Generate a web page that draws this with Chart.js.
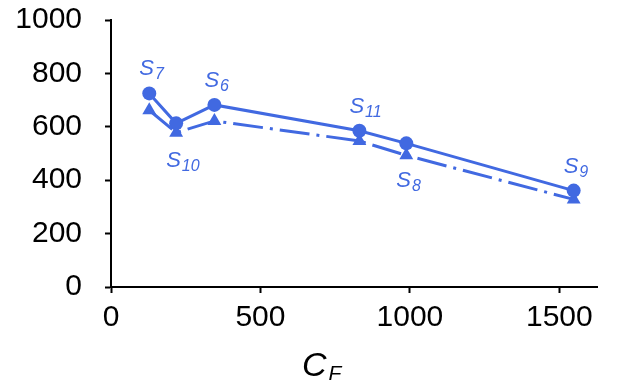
<!DOCTYPE html>
<html>
<head>
<meta charset="utf-8">
<script src="https://cdn.jsdelivr.net/npm/chart.js@4"></script>
<style>
  body { margin: 0; background: #fff; }
  #wrap { width: 627px; height: 389px; }
</style>
</head>
<body>
<div id="wrap"><canvas id="chart" width="627" height="389"></canvas></div>
<script>
// sample subscripts, C_F positions and the two measured series
const sampleNames = ['7', '10', '6', '11', '8', '9'];
const cfValues = [128, 218, 346, 831, 988, 1548];
const circleValues = [725, 613, 682, 585, 538, 361];
const triangleValues = [662, 578, 622, 547, 493, 328];
const labelSide = ['above', 'below', 'above', 'above', 'below', 'above'];
const xTicks = [0, 500, 1000, 1500];
const yTicks = [0, 200, 400, 600, 800, 1000];

const BLUE = '#4169E1';
const FONT = "'Liberation Sans', Arial, sans-serif";

const toPoints = (ys) => cfValues.map((x, i) => ({ x: x, y: ys[i] }));

// draws the S_n labels next to the circle points and the C_F axis title
const textPlugin = {
    id: 'textPlugin',
    afterDatasetsDraw(chart) {
        const ctx = chart.ctx;
        const pts = chart.getDatasetMeta(0).data;
        ctx.save();
        ctx.fillStyle = BLUE;
        ctx.textBaseline = 'alphabetic';
        ctx.textAlign = 'left';
        pts.forEach((p, i) => {
            const baseY = labelSide[i] === 'above' ? p.y - 18 : p.y + 44;
            const startX = p.x - 10;
            ctx.font = 'italic 22px ' + FONT;
            ctx.fillText('S', startX, baseY);
            const w = ctx.measureText('S').width;
            ctx.font = 'italic 16px ' + FONT;
            ctx.fillText(sampleNames[i], startX + w + 1, baseY + 4);
        });

        // x axis title
        ctx.fillStyle = '#000';
        ctx.font = 'italic 34px ' + FONT;
        ctx.fillText('C', 302, 376);
        const cw = ctx.measureText('C').width;
        ctx.font = 'italic 21px ' + FONT;
        ctx.fillText('F', 302 + cw + 2, 380);
        ctx.restore();
    }
};

const ctx = document.getElementById('chart').getContext('2d');
new Chart(ctx, {
    type: 'line',
    data: {
        datasets: [{
            label: 'circle',
            data: toPoints(circleValues),
            borderColor: BLUE,
            backgroundColor: BLUE,
            borderWidth: 3,
            pointStyle: 'circle',
            pointRadius: 7,
            pointBackgroundColor: BLUE,
            pointBorderWidth: 0,
            tension: 0,
            order: 1
        }, {
            label: 'triangle',
            data: toPoints(triangleValues),
            borderColor: BLUE,
            backgroundColor: BLUE,
            borderWidth: 3,
            borderDash: [30, 7, 3, 7],
            pointStyle: 'triangle',
            pointRadius: 8,
            pointBackgroundColor: BLUE,
            pointBorderWidth: 0,
            tension: 0,
            order: 2
        }]
    },
    options: {
        responsive: false,
        animation: false,
        layout: { padding: { top: 20, right: 30, left: 0, bottom: 0 } },
        plugins: {
            legend: { display: false },
            tooltip: { enabled: false }
        },
        scales: {
            x: {
                type: 'linear',
                min: 0,
                max: 1626,
                afterBuildTicks: (scale) => { scale.ticks = xTicks.map(v => ({ value: v })); },
                afterFit: (scale) => {
                    scale.height = 102;
                    scale.paddingLeft = 0;
                    scale.paddingRight = 0;
                },
                grid: {
                    display: true,
                    drawOnChartArea: false,
                    tickLength: 6,
                    tickWidth: 2,
                    tickColor: '#000'
                },
                border: { display: true, color: '#000', width: 2 },
                ticks: {
                    color: '#000',
                    padding: 7,
                    maxRotation: 0,
                    callback: (v) => String(v),
                    font: { size: 30, family: FONT }
                }
            },
            y: {
                min: 0,
                max: 1000,
                afterBuildTicks: (scale) => { scale.ticks = yTicks.map(v => ({ value: v })); },
                afterFit: (scale) => {
                    scale.width = 111;
                    scale.paddingTop = 0;
                    scale.paddingBottom = 0;
                },
                grid: {
                    display: true,
                    drawOnChartArea: false,
                    tickLength: 6,
                    tickWidth: 2,
                    tickColor: '#000'
                },
                border: { display: true, color: '#000', width: 2 },
                ticks: {
                    color: '#000',
                    padding: 23,
                    callback: (v) => String(v),
                    font: { size: 30, family: FONT }
                }
            }
        }
    },
    plugins: [textPlugin]
});
</script>
</body>
</html>
